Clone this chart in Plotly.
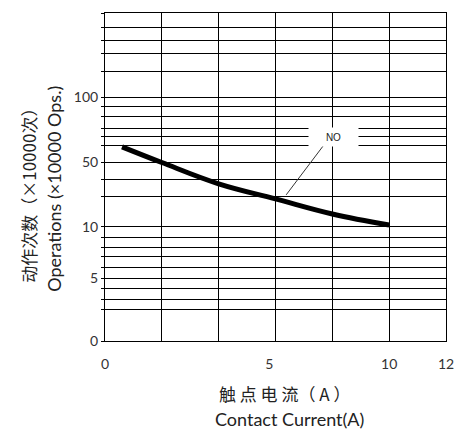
import numpy as np
import plotly.graph_objects as go

# ---- data ----
current_a = [0.6, 2.0, 4.0, 6.0, 8.0, 10.0]
operations_1e4 = [62.0, 50.0, 36.7, 27.3, 17.9, 11.0]

x_tick_text = ["0", "5", "10", "12"]
x_tick_at = [0, 5.78, 10, 12]
x_grid = [0, 2, 4, 6, 8, 10, 12]

y_tick_text = ["0", "5", "10", "50", "100"]
y_tick_values = [0, 5, 10, 50, 100]

# the chart's own non-uniform vertical scale: value -> axis position
y_scale_pos = [0, 62.7, 114.3, 178.3, 243.7]
y_grid_pos = [0, 31.7, 41.7, 52, 62.7, 73.7, 84.3, 93.3, 103.7, 114.3,
              144.5, 161, 178.3, 195.3, 204.3, 212.7, 224.3, 234.3, 243.7,
              269.3, 287, 300.3, 313.7, 327.7]
Y_TOP = 327.7


def yscale(v):
    return np.interp(v, y_tick_values, y_scale_pos)


fig = go.Figure()
fig.add_trace(go.Scatter(
    x=current_a, y=yscale(operations_1e4), mode="lines",
    line=dict(color="black", width=5, shape="spline", smoothing=1.1),
    hoverinfo="skip", showlegend=False))

# leader line from curve to "NO" label
fig.add_shape(type="line", xref="x", yref="y",
              x0=6.375, y0=146, x1=7.68, y1=195,
              line=dict(color="#333333", width=1))

cjk = "Noto Sans CJK SC"
lat = "Lato"
OFF = 8  # page body margin
W, H = 468 - OFF, 434 - OFF
L, T = 105 - OFF, 13.3 - OFF
B = 434 - 341
R = 468 - 445.7
pw, ph = W - L - R, H - T - B


def px(xp):
    return (xp - OFF - L) / pw


def py(yp):
    return (H - B - (yp - OFF)) / ph


annotations = [
    dict(text="动作次数（×10000次）", x=px(29), y=py(191), textangle=-90,
         font=dict(family=cjk, size=17, color="#222")),
    dict(text="Operations (×10000 Ops.)", x=px(54), y=py(189), textangle=-90,
         font=dict(family=lat, size=18, color="#222")),
    dict(text="触 点 电 流（ A ）", x=px(284), y=py(393),
         font=dict(family=cjk, size=17, color="#222")),
    dict(text="Contact Current(A)", x=px(289), y=py(419),
         font=dict(family=lat, size=18, color="#222")),
]
for a in annotations:
    a.update(xref="paper", yref="paper", showarrow=False,
             xanchor="center", yanchor="middle")

annotations.append(dict(text="NO", xref="x", yref="y", x=8.03, y=204.3,
                        showarrow=False, bgcolor="white", width=47, height=16,
                        font=dict(family="Liberation Sans", size=10, color="#222")))

fig.update_layout(
    width=W, height=H,
    margin=dict(l=L, r=R, t=T, b=B),
    paper_bgcolor="white", plot_bgcolor="white",
    showlegend=False,
    annotations=annotations,
    xaxis=dict(range=[0, 12], tickvals=x_tick_at, ticktext=x_tick_text,
               showgrid=False, zeroline=False, showline=True, mirror=True,
               linecolor="black", linewidth=1, ticks="", ticklabelstandoff=10,
               tickfont=dict(family=lat, size=14, color="#333"),
               minor=dict(tickvals=x_grid, showgrid=True, gridcolor="black",
                          gridwidth=1, ticks="")),
    yaxis=dict(range=[0, Y_TOP], tickvals=list(yscale(y_tick_values)),
               ticktext=y_tick_text, showgrid=False, zeroline=False,
               showline=True, mirror=True, linecolor="black", linewidth=1,
               ticks="outside", ticklen=3, tickcolor="black",
               tickfont=dict(family=lat, size=14, color="#333"),
               minor=dict(tickvals=y_grid_pos, showgrid=True, gridcolor="black",
                          gridwidth=1, ticks="outside", ticklen=3,
                          tickcolor="black")),
)

fig.write_html("out.html")
